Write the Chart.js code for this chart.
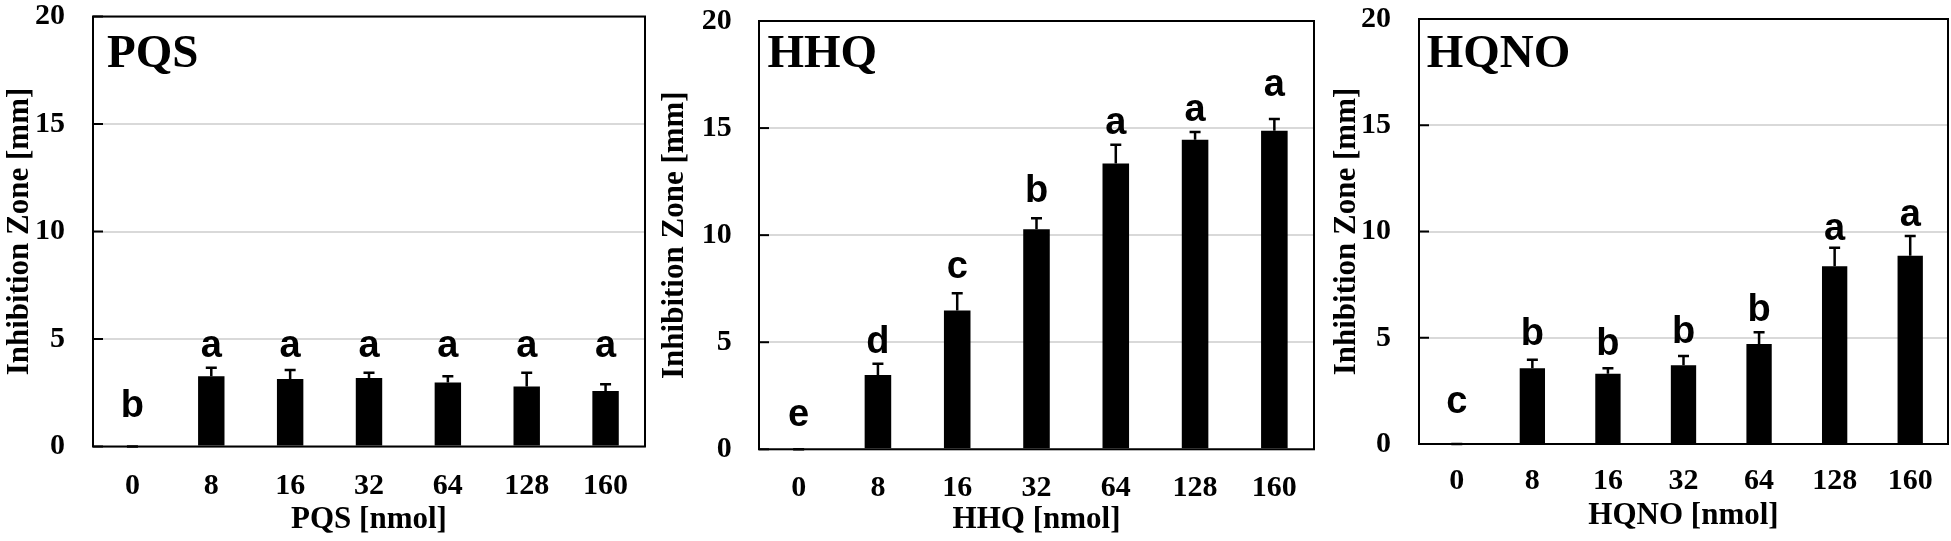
<!DOCTYPE html>
<html><head><meta charset="utf-8">
<script src="https://cdn.jsdelivr.net/npm/chart.js@4.4.1/dist/chart.umd.min.js"></script>
<style>
html,body{margin:0;padding:0;background:#fff;width:1951px;height:541px;overflow:hidden}
.p{position:absolute;top:0;height:541px}
</style></head><body>
<div class="p" style="left:0;width:655px"><canvas id="c1"></canvas></div>
<div class="p" style="left:655px;width:672px"><canvas id="c2"></canvas></div>
<div class="p" style="left:1327px;width:624px"><canvas id="c3"></canvas></div>
<script>
// ---- data ----
const categories = ['0', '8', '16', '32', '64', '128', '160'];
const yTicks = [0, 5, 10, 15, 20];

const pqsMean = [0, 3.27, 3.14, 3.19, 2.98, 2.79, 2.58];
const pqsErr  = [0, 0.39, 0.42, 0.24, 0.29, 0.64, 0.32];
const pqsLetters = ['b', 'a', 'a', 'a', 'a', 'a', 'a'];
const pqsLetterY = [1.36, 4.16, 4.16, 4.16, 4.16, 4.16, 4.16];

const hhqMean = [0, 3.47, 6.48, 10.27, 13.34, 14.46, 14.87];
const hhqErr  = [0, 0.52, 0.81, 0.52, 0.88, 0.36, 0.55];
const hhqLetters = ['e', 'd', 'c', 'b', 'a', 'a', 'a'];
const hhqLetterY = [1.09, 4.49, 8.01, 11.56, 14.71, 15.35, 16.48];

const hqnoMean = [0, 3.57, 3.31, 3.71, 4.71, 8.36, 8.86];
const hqnoErr  = [0, 0.39, 0.26, 0.43, 0.55, 0.88, 0.93];
const hqnoLetters = ['c', 'b', 'b', 'b', 'b', 'a', 'a'];
const hqnoLetterY = [1.47, 4.65, 4.17, 4.74, 5.79, 9.61, 10.26];

const yTitle = 'Inhibition Zone [mm]';

// ---- layout per panel ----
const panels = [
  {id:'c1', name:'PQS', xTitle:'PQS [nmol]', mean:pqsMean, err:pqsErr, letters:pqsLetters, letterY:pqsLetterY,
   yAxisW:93, top:16.5, right:10, xAxisH:94.5, xTickPad:22, xTitlePad:2.9, yTickPad:28, yTitlePad:1.4, nameDx:14, nameDy:50.2},
  {id:'c2', name:'HHQ', xTitle:'HHQ [nmol]', mean:hhqMean, err:hhqErr, letters:hhqLetters, letterY:hhqLetterY,
   yAxisW:104, top:21, right:13, xAxisH:91.7, xTickPad:21, xTitlePad:2.9, yTickPad:27.3, yTitlePad:0.9, nameDx:8.5, nameDy:46},
  {id:'c3', name:'HQNO', xTitle:'HQNO [nmol]', mean:hqnoMean, err:hqnoErr, letters:hqnoLetters, letterY:hqnoLetterY,
   yAxisW:92, top:19, right:3, xAxisH:97, xTickPad:19.4, xTitlePad:6.9, yTickPad:28, yTitlePad:1.1, nameDx:7.7, nameDy:48}
];

const SERIF = '"Liberation Serif", "Times New Roman", serif';
const SANS = '"Liberation Sans", Arial, sans-serif';

const deco = {
  id: 'deco',
  afterDatasetsDraw(chart) {
    const p = chart.options.plugins.deco;
    const {ctx, chartArea: a} = chart;
    const y = chart.scales.y;
    const meta = chart.getDatasetMeta(0);
    ctx.save();
    // inward tick marks on the y axis
    ctx.strokeStyle = '#000';
    ctx.lineWidth = 2;
    yTicks.forEach(v => {
      const py = y.getPixelForValue(v);
      ctx.beginPath(); ctx.moveTo(a.left, py); ctx.lineTo(a.left + 10, py); ctx.stroke();
    });
    // error bars
    ctx.lineWidth = 2.5;
    meta.data.forEach((bar, i) => {
      const y0 = y.getPixelForValue(p.mean[i]);
      const y1 = y.getPixelForValue(p.mean[i] + p.err[i]);
      ctx.beginPath();
      ctx.moveTo(bar.x, y0); ctx.lineTo(bar.x, y1);
      ctx.moveTo(bar.x - 5.5, y1); ctx.lineTo(bar.x + 5.5, y1);
      ctx.stroke();
    });
    // plot frame
    ctx.lineWidth = 2;
    ctx.strokeRect(a.left, a.top, a.right - a.left, a.bottom - a.top);
    // significance letters
    ctx.fillStyle = '#000';
    ctx.font = 'bold 38px ' + SANS;
    ctx.textAlign = 'center';
    ctx.textBaseline = 'alphabetic';
    meta.data.forEach((bar, i) => {
      ctx.fillText(p.letters[i], bar.x, y.getPixelForValue(p.letterY[i]));
    });
    // panel name
    ctx.font = 'bold 47px ' + SERIF;
    ctx.textAlign = 'left';
    ctx.fillText(p.name, a.left + p.nameDx, a.top + p.nameDy);
    ctx.restore();
  }
};

panels.forEach(p => {
  new Chart(document.getElementById(p.id), {
    type: 'bar',
    data: {
      labels: categories,
      datasets: [{data: p.mean, backgroundColor: '#000', borderWidth: 0,
                  barPercentage: 0.335, categoryPercentage: 1.0}]
    },
    options: {
      responsive: true,
      maintainAspectRatio: false,
      animation: false,
      devicePixelRatio: 1,
      layout: {padding: {top: p.top, right: p.right, left: 0, bottom: 0}},
      plugins: {
        legend: {display: false},
        tooltip: {enabled: false},
        deco: p
      },
      scales: {
        x: {
          grid: {display: false, drawTicks: false},
          border: {display: false},
          ticks: {color: '#000', padding: p.xTickPad, maxRotation: 0,
                  font: {family: SERIF, weight: 'bold', size: 30}},
          title: {display: true, text: p.xTitle, color: '#000',
                  padding: {top: 0, bottom: p.xTitlePad},
                  font: {family: SERIF, weight: 'bold', size: 31}},
          afterFit: s => { s.height = p.xAxisH; s.paddingLeft = 0; s.paddingRight = 0; }
        },
        y: {
          min: 0, max: 20,
          grid: {color: '#d9d9d9', lineWidth: 2, drawTicks: false},
          border: {display: false},
          ticks: {stepSize: 5, color: '#000', padding: p.yTickPad,
                  font: {family: SERIF, weight: 'bold', size: 30}},
          title: {display: true, text: yTitle, color: '#000',
                  padding: {top: p.yTitlePad, bottom: 0},
                  font: {family: SERIF, weight: 'bold', size: 31}},
          afterFit: s => { s.width = p.yAxisW; s.paddingTop = 0; s.paddingBottom = 0; }
        }
      }
    },
    plugins: [deco]
  });
});
</script>
</body></html>
